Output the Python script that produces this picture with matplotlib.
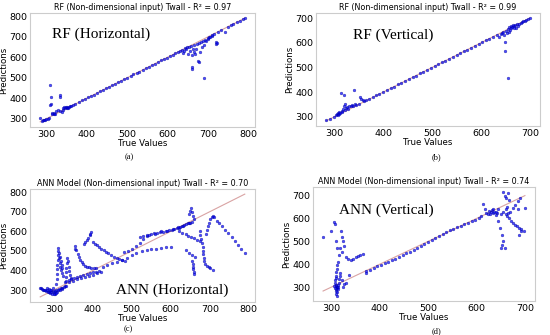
import matplotlib.pyplot as plt

# ---- data (true value, prediction) ----
# (a) RF horizontal
a_true = [285, 290, 292, 295, 298, 300, 303, 306,
          310, 311, 312, 310, 313, 315, 318, 320, 322, 325,
          328, 333, 333, 335, 338, 340, 342, 344, 346, 348,
          350, 352, 354, 356, 358, 360,
          365, 372, 380, 388, 395, 403, 410, 418, 425, 433, 440, 448, 455, 463, 470,
          478, 485, 493, 500, 508, 515, 523, 530, 538, 545, 553, 560, 568, 575, 583,
          590, 598, 605, 612, 618, 624, 630, 635,
          638, 640, 642, 645, 648, 650, 652, 655, 657, 660, 660, 660, 662, 665, 665,
          668, 670, 672, 675, 677, 678, 680, 682, 685, 688, 690, 690, 692, 695, 698,
          700, 702, 705, 708, 710, 718, 720, 722,
          715, 725, 732, 740, 748, 755, 762, 770, 777, 785, 790]
a_pred = [305, 290, 292, 294, 296, 299, 301, 304,
          462, 405, 372, 368, 330, 325, 322, 328, 325, 340,
          345, 415, 405, 338, 335, 345, 350, 355, 352, 358,
          350, 356, 352, 358, 360, 362,
          366, 372, 380, 389, 395, 404, 410, 418, 426, 433, 440, 449, 455, 463, 471,
          478, 485, 494, 500, 508, 516, 523, 530, 539, 545, 553, 561, 568, 575, 584,
          590, 598, 606, 612, 618, 625, 630, 636,
          620, 632, 645, 640, 650, 615, 648, 630, 655, 610, 550, 540, 640, 625, 660,
          615, 640, 665, 580, 575, 668, 625, 672, 650, 678, 500, 660, 685, 680, 690,
          695, 698, 700, 705, 706, 675, 665, 670,
          715, 725, 732, 722, 748, 755, 762, 770, 777, 785, 790]

# (b) RF vertical
b_true = [283, 290, 298, 303, 305, 307, 308, 310, 310, 312,
          313, 315, 316, 318, 319, 320, 321, 322, 324, 326,
          328, 330, 333, 335, 338, 340, 342, 345, 350, 352,
          355, 358, 360, 365, 370,
          378, 385, 392, 400, 407, 415, 422, 430, 437, 445, 452, 460, 467, 475, 482,
          490, 497, 505, 512, 520, 527, 535, 542, 550, 557, 565, 572, 580, 587, 595,
          602, 610, 617, 625, 632,
          636, 640, 643, 646, 648, 650, 650, 652, 654, 655, 656, 657, 658, 660, 661,
          662, 664, 665, 667, 668, 670, 672, 674, 676, 678,
          681, 684, 687, 690, 693, 696, 700]
b_pred = [288, 292, 298, 305, 312, 308, 316, 310, 320, 314,
          398, 325, 318, 330, 388, 345, 352, 328, 335, 340,
          332, 342, 345, 348, 344, 408, 350, 346, 352, 380,
          372, 368, 362, 367, 370,
          378, 386, 392, 400, 408, 415, 422, 431, 437, 445, 453, 460, 467, 476, 482,
          490, 498, 505, 512, 521, 527, 535, 543, 550, 557, 566, 572, 580, 588, 595,
          602, 611, 617, 625, 632,
          625, 636, 640, 642, 630, 605, 565, 648, 640, 458, 655, 645, 662, 650, 668,
          658, 665, 672, 660, 668, 672, 660, 675, 670, 678,
          681, 684, 687, 690, 693, 696, 700]

# (c) ANN horizontal
c_true = [265, 268, 270, 272, 275, 278, 280, 282, 285, 287, 290, 292, 295, 297, 300,
          302, 305, 308, 310, 312, 315, 318, 320, 322, 325, 328, 330, 283, 288, 293,
          298, 303, 300, 306, 290,
          306, 307, 308, 309, 309, 310, 310, 311, 310, 312, 313, 315, 317, 319, 321,
          323, 316, 318, 320, 322,
          328, 330, 331, 332, 333, 334, 336, 338, 340, 342, 345,
          353, 355, 358, 361, 364, 367, 371, 375, 380, 385, 390, 396, 402, 408,
          378, 381, 384, 388, 392, 395, 393,
          400, 405, 410, 416, 422, 428, 434, 440, 447, 454, 461, 468, 475, 482,
          330, 338, 345, 352, 360, 368, 376, 384, 392, 400, 408, 416,
          340, 350, 360, 370, 380, 390, 400, 410, 420,
          425, 437, 450, 462, 475, 488, 500, 512, 525, 538, 550, 562, 575, 588, 600,
          480, 490, 500, 512, 522, 530, 538,
          520, 530, 540, 550, 558, 565, 572, 580, 588, 595, 602, 608, 615, 620, 625,
          630, 635, 640, 645, 650, 655, 545, 560, 575, 590, 605, 618, 632, 648,
          648, 650, 652, 655, 657, 660,
          622, 630, 638, 645, 652, 660, 668, 675,
          655, 656, 657, 658, 659, 660,
          640, 648, 655, 661,
          674, 676, 678, 680, 682, 683, 684, 685, 686, 688,
          692, 697, 702, 708,
          690, 693, 696, 699, 702, 705, 708, 712,
          718, 725, 732, 740, 748, 756, 764, 772, 780, 790]
c_pred = [312, 308, 305, 302, 300, 298, 295, 300, 292, 288, 285, 290, 282, 295, 288,
          295, 300, 292, 298, 305, 300, 308, 310, 305, 315, 318, 320, 310, 305, 300,
          310, 280, 278, 285, 300,
          330, 355, 380, 405, 430, 455, 478, 500, 515, 490, 465, 440, 420, 400, 385,
          370, 470, 450, 430, 410,
          340, 365, 390, 415, 440, 465, 450, 420, 395, 375, 360,
          510, 525, 505, 485, 468, 455, 442, 432, 425, 420, 416, 413, 411, 410,
          535, 545, 556, 568, 580, 595, 588,
          545, 537, 530, 521, 512, 503, 495, 487, 479, 471, 464, 458, 453, 449,
          345, 352, 358, 362, 368, 372, 377, 382, 386, 390, 394, 398,
          340, 348, 355, 360, 366, 372, 378, 385, 392,
          420, 428, 436, 445, 455, 465, 478, 490, 500, 505, 510, 512, 515, 518, 520,
          492, 500, 510, 525, 540, 560, 575,
          570, 578, 582, 585, 590, 592, 595, 598, 602, 605, 608, 612, 615, 618, 620,
          625, 630, 635, 640, 645, 650, 580, 588, 600, 600, 612, 620, 628, 642,
          690, 705, 720, 700, 680, 665,
          600, 592, 585, 578, 572, 565, 558, 552,
          450, 435, 420, 405, 392, 380,
          502, 490, 478, 467,
          600, 580, 560, 540, 520, 500, 482, 465, 448, 432,
          425, 418, 410, 402,
          585, 605, 625, 645, 665, 675, 678, 672,
          655, 640, 625, 608, 590, 572, 552, 532, 512, 490]

# (d) ANN vertical
d_true = [283, 300, 305, 307, 310, 312, 315, 314, 312, 311,
          310, 309, 310, 308, 307, 309, 310, 311, 312, 310, 309, 311, 310, 312, 313,
          314, 313, 308, 306, 315, 316, 318, 318, 320, 322, 318, 322, 325, 327, 330,
          335, 340, 345, 350, 355, 360, 365, 337, 322, 326, 330, 325,
          372, 372, 380, 388, 395, 402, 410, 418, 425, 432, 440, 448, 455, 462, 470,
          478, 485, 492, 500, 507, 515, 522, 530, 537, 545, 552, 560, 567, 575, 582,
          590, 597, 605, 610,
          613, 618, 620, 623, 625, 628, 630, 632, 635, 637, 640, 642, 645, 648, 652,
          655, 658, 650, 652, 655, 658, 660, 665, 668, 655, 660, 664, 668, 672, 676,
          680, 684, 688, 692, 698, 670, 675, 680, 685, 690, 686, 700, 688, 692, 660,
          662, 665, 650, 645, 640, 635]
d_pred = [520, 544, 585, 575, 500, 470, 440, 410, 395, 380,
          365, 350, 340, 330, 320, 310, 305, 300, 295, 290, 285, 280, 270, 262, 300,
          310, 290, 298, 305, 320, 335, 350, 362, 545, 520, 470, 455, 500, 480, 430,
          425, 420, 425, 430, 435, 440, 445, 353, 330, 315, 320, 300,
          360, 372, 375, 385, 392, 398, 405, 412, 418, 425, 432, 440, 448, 455, 463,
          472, 480, 488, 497, 505, 515, 525, 532, 540, 548, 555, 562, 568, 575, 580,
          588, 595, 600, 612,
          663, 640, 625, 620, 632, 618, 628, 638, 622, 630, 615, 625, 590, 560, 530,
          500, 470, 470, 485, 715, 700, 690, 710, 680, 630, 620, 610, 600, 590, 580,
          572, 565, 558, 552, 545, 630, 645, 660, 675, 690, 640, 645, 530, 545, 640,
          650, 625, 620, 640, 630, 640]

panels = [
    dict(x=a_true, y=a_pred, title='RF (Non-dimensional input) Twall - R² = 0.97',
         box=(30, 13, 255, 127), tag='RF (Horizontal)', tpos=(0.10, 0.81),
         lab='(a)', lpos=(129, 157), xt=[300, 400, 500, 600, 700, 800],
         yt=[300, 400, 500, 600, 700, 800]),
    dict(x=b_true, y=b_pred, title='RF (Non-dimensional input) Twall - R² = 0.99',
         box=(316, 13, 540, 126), tag='RF (Vertical)', tpos=(0.165, 0.80),
         lab='(b)', lpos=(436, 157), xt=[300, 400, 500, 600, 700],
         yt=[300, 400, 500, 600, 700]),
    dict(x=c_true, y=c_pred, title='ANN Model (Non-dimensional input) Twall - R² = 0.70',
         box=(30, 189, 255, 302), tag='ANN (Horizontal)', tpos=(0.38, 0.10),
         lab='(c)', lpos=(128, 329), xt=[300, 400, 500, 600, 700, 800],
         yt=[300, 400, 500, 600, 700, 800]),
    dict(x=d_true, y=d_pred, title='ANN Model (Non-dimensional input) Twall - R² = 0.74',
         box=(313, 187, 535, 301), tag='ANN (Vertical)', tpos=(0.117, 0.80),
         lab='(d)', lpos=(436, 331), xt=[300, 400, 500, 600, 700],
         yt=[300, 400, 500, 600, 700]),
]

W, H = 550, 335
fig = plt.figure(figsize=(W / 100, H / 100), dpi=100)

for p in panels:
    l, t, r, b = p['box']
    ax = fig.add_axes([l / W, 1 - b / H, (r - l) / W, (b - t) / H])
    lo, hi = min(p['x']), max(p['x'])
    ax.plot([lo, hi], [lo, hi], color='#d9a3a3', lw=0.8, zorder=1)
    ax.scatter(p['x'], p['y'], s=4, c='blue', edgecolors='navy', linewidths=0.3,
               alpha=0.7, zorder=2)
    ax.set_title(p['title'], fontsize=5.8, pad=2)
    ax.set_xlabel('True Values', fontsize=6.2, labelpad=0)
    ax.set_ylabel('Predictions', fontsize=6.2, labelpad=1)
    ax.set_xticks(p['xt'])
    ax.set_yticks(p['yt'])
    ax.tick_params(labelsize=6.8, length=0, pad=2)
    for s in ax.spines.values():
        s.set_color('#cccccc')
        s.set_linewidth(0.8)
    ax.text(p['tpos'][0], p['tpos'][1], p['tag'], transform=ax.transAxes,
            family='Liberation Serif', fontsize=11, va='center', ha='left')
    fig.text(p['lpos'][0] / W, 1 - p['lpos'][1] / H, p['lab'],
             family='Liberation Serif', fontsize=6, ha='center', va='center')

fig.savefig('out.png', dpi=100)
